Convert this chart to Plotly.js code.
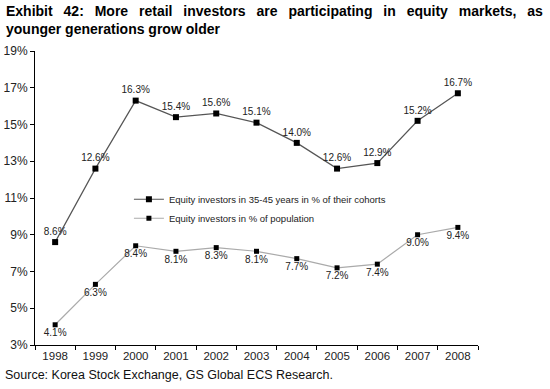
<!DOCTYPE html>
<html><head><meta charset="utf-8">
<script src="https://cdn.plot.ly/plotly-3.0.1.min.js"></script>
<style>body{margin:0;padding:0;background:#fff}#c{width:550px;height:389px}</style>
</head><body><div id="c"></div>
<script>
var years = ['1998','1999','2000','2001','2002','2003','2004','2005','2006','2007','2008'];
var cohort = [8.6,12.6,16.3,15.4,15.6,15.1,14.0,12.6,12.9,15.2,16.7];
var population = [4.1,6.3,8.4,8.1,8.3,8.1,7.7,7.2,7.4,9.0,9.4];
var yTicks = [3,5,7,9,11,13,15,17,19];
var yTickText = yTicks.map(function(v){return v+'%';});

var t1 = {x: years, y: cohort, type:'scatter', mode:'lines+markers+text',
  name:'Equity investors in 35-45 years in % of their cohorts',
  line:{color:'#555555', width:1.2}, marker:{symbol:'square', size:6, color:'#000'},
  text: cohort.map(function(v){return v.toFixed(1)+'%';}), textposition:'top center',
  textfont:{family:'Liberation Sans, Arial', size:10, color:'#222'}, cliponaxis:false};
var t2 = {x: years, y: population, type:'scatter', mode:'lines+markers+text',
  name:'Equity investors in % of population',
  line:{color:'#aaaaaa', width:1.2}, marker:{symbol:'square', size:5, color:'#000'},
  text: population.map(function(v){return v.toFixed(1)+'%';}), textposition:'bottom center',
  textfont:{family:'Liberation Sans, Arial', size:10, color:'#222'}, cliponaxis:false};

var line1 = 'Exhibit 42: More retail investors are participating in equity markets, as'.split(' ').join(' \u2002');
var layout = {
  width:550, height:389, margin:{l:35, r:72, t:51, b:44},
  paper_bgcolor:'#fff', plot_bgcolor:'#fff', showlegend:true,
  font:{family:'Liberation Sans, Arial', color:'#222'},
  xaxis:{type:'category', range:[-0.5,10.5], showline:true, linecolor:'#000', linewidth:1,
    ticks:'outside', ticklen:4, tickcolor:'#000', tickson:'boundaries', showgrid:false, zeroline:false,
    tickfont:{size:11.5, color:'#222'}},
  yaxis:{range:[3,19], tickvals:yTicks, ticktext:yTickText, showline:true, linecolor:'#000', linewidth:1,
    ticks:'outside', ticklen:4, tickcolor:'#000', showgrid:false, zeroline:false,
    tickfont:{size:12, color:'#222'}},
  legend:{x:0.212, y:0.545, xanchor:'left', yanchor:'top', bgcolor:'rgba(0,0,0,0)',
    font:{size:9.5, color:'#222'}, itemwidth:30, tracegroupgap:0},
  annotations:[
    {xref:'paper', yref:'paper', x:-0.07, y:1.0, xanchor:'left', yanchor:'bottom', yshift:12, showarrow:false,
     align:'left', text:'<b>' + line1 + '<br>younger generations grow older</b>',
     font:{size:14, color:'#000'}},
    {xref:'paper', yref:'paper', x:-0.072, y:0, xanchor:'left', yanchor:'top', yshift:-21, showarrow:false,
     text:'Source: Korea Stock Exchange, GS Global ECS Research.', font:{size:12.5, color:'#111'}}
  ]
};
Plotly.newPlot('c', [t1, t2], layout, {staticPlot:true});
</script></body></html>
